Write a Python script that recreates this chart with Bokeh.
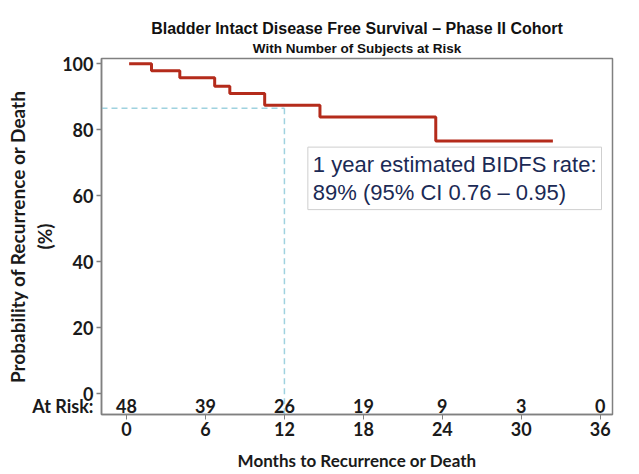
from bokeh.plotting import figure
from bokeh.models import Range1d, Label, Title, FixedTicker, ColumnDataSource
from bokeh.core.properties import value
from bokeh.embed import file_html
from bokeh.resources import INLINE

# Kaplan-Meier step data (months, % free of event)
km_months = [0.2, 1.9, 4.05, 6.7, 7.85, 10.5, 14.7, 23.5, 32.4]
km_survival = [100, 97.9, 95.8, 93.2, 91.0, 87.4, 83.9, 76.6, 76.6]

# 1-year reference
ref_month = 12
ref_rate = 86.5

# Number at risk
risk_months = [0, 6, 12, 18, 24, 30, 36]
risk_counts = [48, 39, 26, 19, 9, 3, 0]
risk_row_y = -3.6

x_ticks = [0, 6, 12, 18, 24, 30, 36]
y_ticks = [0, 20, 40, 60, 80, 100]

X0, X1 = -1.9, 36.93
Y0, Y1 = -6.3, 101.6

p = figure(width=639, height=474, output_backend="svg", toolbar_location=None,
           x_range=Range1d(X0, X1), y_range=Range1d(Y0, Y1),
           min_border_left=101, min_border_right=27, min_border_top=58,
           min_border_bottom=60, background_fill_color="white",
           border_fill_color="white")

p.title.text = "Bladder Intact Disease Free Survival \u2013 Phase II Cohort"
p.title.align = "center"
p.title.offset = 5
p.title.text_font = "Liberation Sans"
p.title.text_font_size = "16px"
p.title.text_font_style = "bold"
p.title.text_color = "#111111"
p.title.standoff = 0
sub_title = Title(text="With Number of Subjects at Risk",
                  align="center", offset=5, text_font="Liberation Sans",
                  text_font_size="13.5px", text_font_style="bold",
                  text_color="#111111", standoff=5)
p.add_layout(sub_title, "above")

p.xgrid.visible = False
p.ygrid.visible = False
p.outline_line_color = "#808080"
p.outline_line_width = 1.5

for ax in (p.xaxis[0], p.yaxis[0]):
    ax.axis_line_color = "#808080"
    ax.axis_line_width = 1.5
    ax.major_tick_line_color = "#808080"
    ax.major_tick_out = 5
    ax.major_tick_in = 0
    ax.minor_tick_line_color = None
    ax.major_label_text_font = "Lato"
    ax.major_label_text_font_size = "18px"
    ax.major_label_text_font_style = "bold"
    ax.major_label_text_color = "#1a1a1a"
    ax.axis_label_text_font = "Lato"
    ax.axis_label_text_font_style = "bold"
    ax.axis_label_text_color = "#1a1a1a"

p.xaxis.ticker = FixedTicker(ticks=x_ticks)
# y axis: "At Risk:" row label is an extra (unmarked) major tick; visible tick marks are minor ticks
p.yaxis.ticker = FixedTicker(ticks=[risk_row_y] + y_ticks, minor_ticks=y_ticks)
p.yaxis.major_label_overrides = {risk_row_y: "At Risk:"}
p.yaxis.major_tick_line_color = None
p.yaxis.minor_tick_line_color = "#808080"
p.yaxis.minor_tick_line_width = 1.5
p.yaxis.minor_tick_out = 5
p.yaxis.minor_tick_in = 0

p.xaxis.major_label_standoff = 2
p.yaxis.major_label_standoff = 3
p.xaxis.axis_label = "Months to Recurrence or Death"
p.xaxis.axis_label_text_font_size = "17px"
p.xaxis.axis_label_standoff = 11
p.yaxis.axis_label = "Probability of Recurrence or Death\n(%)"
p.yaxis.axis_label_text_font_size = "19px"
p.yaxis.axis_label_standoff = -27

# reference dashed lines
p.line([X0, ref_month], [ref_rate, ref_rate], line_color="#9fd2df", line_width=1.5,
       line_dash="6 4")
p.line([ref_month, ref_month], [ref_rate, Y0], line_color="#9fd2df", line_width=1.5,
       line_dash="6 4")

# KM curve
p.step(km_months, km_survival, mode="after", line_color="#b42b1b", line_width=3)

# at-risk numbers
src = ColumnDataSource(data=dict(x=risk_months, y=[risk_row_y] * len(risk_months),
                                 t=[str(c) for c in risk_counts]))
p.text(x="x", y="y", text="t", source=src, text_align="center", text_baseline="middle",
       text_font=value("Lato"), text_font_size="18px", text_font_style="bold",
       text_color="#1a1a1a")

p.add_layout(Label(x=13.78, y=55.8,
                   text="1 year estimated BIDFS rate:\n89% (95% CI 0.76 \u2013 0.95)",
                   text_align="left", text_baseline="bottom", text_font="Liberation Sans",
                   text_font_size="22px", text_color="#1b2a55", text_line_height=1.1,
                   border_line_color="#cfcfcf", border_line_width=1,
                   background_fill_color="white", padding=5))

open("out.html", "w").write(file_html(p, INLINE))
